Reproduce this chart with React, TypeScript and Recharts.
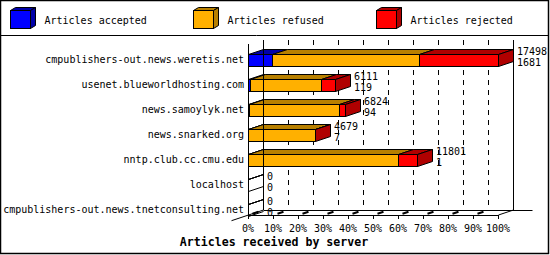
import React from 'react';
import { BarChart, Bar, XAxis, YAxis, CartesianGrid, ReferenceLine } from 'recharts';

const categories = [
  'cmpublishers-out.news.weretis.net',
  'usenet.blueworldhosting.com',
  'news.samoylyk.net',
  'news.snarked.org',
  'nntp.club.cc.cmu.edu',
  'localhost',
  'cmpublishers-out.news.tnetconsulting.net',
];
const accepted = [1681, 119, 94, 7, 1, 0, 0];
const refused = [10309, 4969, 6297, 4660, 10519, 0, 0];
const rejected = [5508, 1023, 433, 12, 1281, 0, 0];
const seriesKeys = ['accepted', 'refused', 'rejected'];
const seriesNames = ['Articles accepted', 'Articles refused', 'Articles rejected'];
const seriesColors = ['#0000ff', '#ffb000', '#ff0000'];
const seriesDark = ['#0000a8', '#b88000', '#b00000'];
const tickPercents = [0, 10, 20, 30, 40, 50, 60, 70, 80, 90, 100];
const title = 'Articles received by server';

const totals = categories.map((_, i) => accepted[i] + refused[i] + rejected[i]);
const maxTotal = Math.max(...totals);
const data = categories.map((name, i) => ({
  name,
  accepted: accepted[i],
  refused: refused[i],
  rejected: rejected[i],
  total: totals[i],
}));
const ticks = tickPercents.map((p) => (maxTotal * p) / 100);

const DX = 15;
const DY = 5;
const FONT = '"DejaVu Sans Mono", "Liberation Mono", monospace';

const make3D = (si: number) => (props: any) => {
  const { x, y, width, height, index } = props;
  const idx = typeof index === 'number' ? index : categories.indexOf(props.payload?.name);
  const total = totals[idx];
  const x0 = Math.round(x) + 0.5;
  const x1 = Math.round(x + width) + 0.5;
  const y0 = Math.round(y) + 0.5;
  const y1 = Math.round(y + height) + 0.5;
  const fill = seriesColors[si];
  const dark = seriesDark[si];
  const labels =
    si === 2 ? (
      <g fontFamily={FONT} fontSize={10} fill="#000">
        <text x={x1 + DX + 3.5} y={y0 - 3.5} dominantBaseline="central">{total}</text>
        <text x={x1 + DX + 3.5} y={y0 + 7.5} dominantBaseline="central">{accepted[idx]}</text>
      </g>
    ) : null;
  if (total === 0) {
    return (
      <g>
        <line x1={x0} y1={y0} x2={x0 + DX} y2={y0 - DY} stroke="#000" />
        {si === 2 && <line x1={x0} y1={y1} x2={x0 + DX} y2={y1 - DY} stroke="#000" />}
        {labels}
      </g>
    );
  }
  return (
    <g>
      {x1 - x0 > 0 && (
        <rect x={x0} y={y0} width={x1 - x0} height={y1 - y0} fill={fill} stroke="#000" />
      )}
      <polygon
        points={`${x0},${y0} ${x0 + DX},${y0 - DY} ${x1 + DX},${y0 - DY} ${x1},${y0}`}
        fill={dark}
        stroke="#000"
      />
      {si === 2 && (
        <polygon
          points={`${x1},${y0} ${x1 + DX},${y0 - DY} ${x1 + DX},${y1 - DY} ${x1},${y1}`}
          fill={dark}
          stroke="#000"
        />
      )}
      {labels}
    </g>
  );
};

const renderVertical = (p: any) => {
  const { x1, y1, y2, x, width, index } = p;
  const isEdge =
    typeof x === 'number' && typeof width === 'number'
      ? Math.abs(x1 - x) < 0.5 || Math.abs(x1 - (x + width)) < 0.5
      : false;
  if (isEdge) return <g key={`v-${index}`} />;
  const top = Math.min(y1, y2);
  const bottom = Math.max(y1, y2);
  const bx = Math.round(x1) + DX + 0.5;
  return (
    <line
      key={`v-${index}`}
      x1={bx}
      y1={top - 6.5}
      x2={bx}
      y2={bottom - 11.5}
      stroke="#000"
      strokeDasharray="5 5"
    />
  );
};

const LeftFrame = (p: any) => {
  const top = Math.min(p.y1, p.y2);
  const bottom = Math.max(p.y1, p.y2);
  const fx = Math.round(p.x1) + 0.5;
  const bx = fx + DX;
  return (
    <g>
      <line x1={fx} y1={top - 2.5} x2={fx} y2={bottom - 6.5} stroke="#000" />
      <line x1={bx} y1={top - 6.5} x2={bx} y2={bottom - 11.5} stroke="#000" />
      <line x1={fx - 17} y1={bottom - 0.8} x2={bx} y2={bottom - 11.5} stroke="#000" />
    </g>
  );
};

const RightFrame = (p: any) => {
  const top = Math.min(p.y1, p.y2);
  const bottom = Math.max(p.y1, p.y2);
  const fx = Math.round(p.x1) + 0.5;
  const bx = fx + DX;
  return (
    <g>
      <line x1={bx} y1={top - 6.5} x2={bx} y2={bottom - 11.5} stroke="#000" />
      <line x1={fx} y1={bottom - 6.5} x2={bx} y2={bottom - 11.5} stroke="#000" />
    </g>
  );
};

const FloorFrame = (p: any) => {
  const lx = Math.round(Math.min(p.x1, p.x2)) + 0.5;
  const rx = Math.round(Math.max(p.x1, p.x2)) + 0.5;
  const fy = Math.round(p.y1 + 6) + 0.5;
  return (
    <g>
      <line x1={lx} y1={fy} x2={rx} y2={fy} stroke="#000" />
      <line x1={lx + DX} y1={fy - DY} x2={rx + DX + 19} y2={fy - DY} stroke="#000" />
    </g>
  );
};

const XTick = (p: any) => {
  const { x, y, payload } = p;
  const pct = Math.round((payload.value / maxTotal) * 100);
  const cx = Math.round(x) + 0.5;
  const fy = y - 6.5;
  return (
    <g>
      <line x1={cx} y1={fy} x2={cx} y2={fy + 4} stroke="#000" />
      {pct < 100 && (
        <line x1={cx + 4} y1={fy - 1.3} x2={cx + 10} y2={fy - 3.3} stroke="#000" strokeWidth={2} />
      )}
      <text
        x={x}
        y={y + 6.5}
        textAnchor="middle"
        dominantBaseline="central"
        fontFamily={FONT}
        fontSize={10}
        fill="#000"
      >
        {pct}%
      </text>
    </g>
  );
};

const YTick = (p: any) => {
  const { x, y, payload } = p;
  return (
    <text
      x={x}
      y={y}
      textAnchor="end"
      dominantBaseline="central"
      fontFamily={FONT}
      fontSize={10}
      fill="#000"
    >
      {payload.value}
    </text>
  );
};

const LegendOverlay = () => (
  <svg
    width={550}
    height={255}
    style={{ position: 'absolute', left: 0, top: 0, pointerEvents: 'none' }}
  >
    <rect x={0.5} y={0.5} width={548} height={253} fill="none" stroke="#000" strokeWidth={1.5} />
    <line x1={0} y1={35.5} x2={549} y2={35.5} stroke="#000" />
    {seriesNames.map((name, i) => {
      const lx = 10.5 + i * 183;
      const ly = 10.5;
      return (
        <g key={name}>
          <rect x={lx} y={ly} width={20} height={18} fill={seriesColors[i]} stroke="#000" />
          <polygon
            points={`${lx},${ly} ${lx + 5},${ly - 3} ${lx + 25},${ly - 3} ${lx + 20},${ly}`}
            fill={seriesDark[i]}
            stroke="#000"
          />
          <polygon
            points={`${lx + 20},${ly} ${lx + 25},${ly - 3} ${lx + 25},${ly + 15} ${lx + 20},${ly + 18}`}
            fill={seriesDark[i]}
            stroke="#000"
          />
          <text
            x={lx + 34}
            y={20}
            dominantBaseline="central"
            fontFamily={FONT}
            fontSize={10}
            fill="#000"
          >
            {name}
          </text>
        </g>
      );
    })}
    <text
      x={274}
      y={242}
      textAnchor="middle"
      dominantBaseline="central"
      fontFamily={FONT}
      fontSize={11.6}
      fontWeight="bold"
      fill="#000"
    >
      {title}
    </text>
  </svg>
);

export default function App() {
  return (
    <div
      style={{
        position: 'absolute',
        left: 0,
        top: 0,
        width: 550,
        height: 255,
        background: '#fff',
        overflow: 'hidden',
      }}
    >
      <BarChart
        width={550}
        height={255}
        data={data}
        layout="vertical"
        margin={{ top: 46.5, right: 52, bottom: 0, left: 0 }}
        barSize={12}
      >
        <CartesianGrid horizontal={false} vertical={renderVertical} />
        <XAxis
          type="number"
          domain={[0, maxTotal]}
          ticks={ticks}
          interval={0}
          axisLine={false}
          tickLine={false}
          tickSize={0}
          tickMargin={0}
          height={33.5}
          tick={<XTick />}
        />
        <YAxis
          type="category"
          dataKey="name"
          width={248}
          interval={0}
          axisLine={false}
          tickLine={false}
          tickSize={0}
          tickMargin={4}
          tick={<YTick />}
        />
        {seriesKeys.map((k, i) => (
          <Bar
            key={k}
            dataKey={k}
            name={seriesNames[i]}
            stackId="s"
            fill={seriesColors[i]}
            isAnimationActive={false}
            shape={make3D(i)}
          />
        ))}
        <ReferenceLine x={0} shape={<LeftFrame />} ifOverflow="visible" />
        <ReferenceLine x={maxTotal} shape={<RightFrame />} ifOverflow="visible" />
        <ReferenceLine
          y={categories[categories.length - 1]}
          shape={<FloorFrame />}
          ifOverflow="visible"
        />
      </BarChart>
      <LegendOverlay />
    </div>
  );
}
